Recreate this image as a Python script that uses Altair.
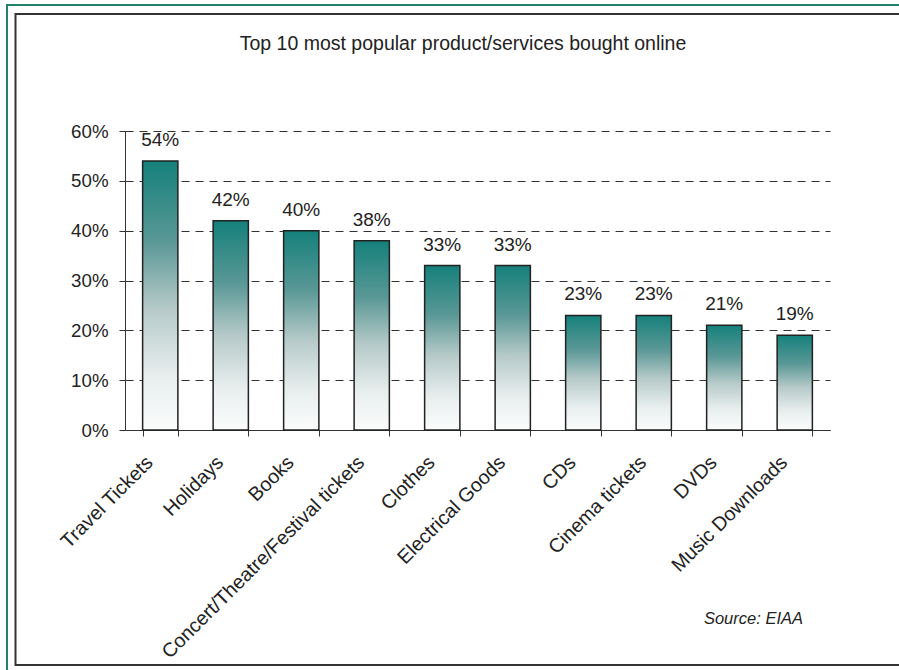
import altair as alt
import pandas as pd

categories = [
    "Travel Tickets", "Holidays", "Books", "Concert/Theatre/Festival tickets",
    "Clothes", "Electrical Goods", "CDs", "Cinema tickets", "DVDs", "Music Downloads",
]
shares = [0.54, 0.42, 0.40, 0.38, 0.33, 0.33, 0.23, 0.23, 0.21, 0.19]
y_ticks = [0, 0.1, 0.2, 0.3, 0.4, 0.5, 0.6]
title_text = "Top 10 most popular product/services bought online"
source_text = "Source: EIAA"

df = pd.DataFrame({"category": categories, "share": shares})
one = pd.DataFrame({"t": [title_text], "s": [source_text]})

FONT = "Liberation Sans, Arial, sans-serif"
W, H = 705, 299
PAD_L, PAD_T = 125, 131
TXT = "#222222"
AX = "#333333"

gradient = alt.Gradient(
    gradient="linear",
    stops=[
        alt.GradientStop(color="#15807b", offset=0),
        alt.GradientStop(color="#5a9896", offset=0.3),
        alt.GradientStop(color="#b6cac9", offset=0.55),
        alt.GradientStop(color="#e8eeee", offset=0.8),
        alt.GradientStop(color="#fbfcfc", offset=1),
    ],
    x1=0, x2=0, y1=0, y2=1,
)

x_enc = alt.X(
    "category:N", sort=categories,
    scale=alt.Scale(paddingInner=0.5, paddingOuter=0.25),
    axis=alt.Axis(
        title=None, labelAngle=-45, labelAlign="right", labelBaseline="top",
        labelFontSize=19.7, labelFont=FONT, labelColor=TXT, labelLimit=500,
        tickBand="extent", tickSize=6, tickColor=AX, domainColor=AX,
        labelPadding=16, labelOffset=-18, grid=False,
    ),
)
y_enc = alt.Y(
    "share:Q",
    scale=alt.Scale(domain=[0, 0.6], nice=False),
    axis=alt.Axis(
        title=None, format=".0%", values=y_ticks, tickSize=6, tickColor=AX,
        domainColor=AX, labelPadding=11, labelFontSize=18.7, labelFont=FONT,
        labelColor=TXT, grid=True, gridDash=[8, 6], gridColor=AX, gridWidth=1,
    ),
)

base = alt.Chart(df)
bars = base.mark_bar(fill=gradient, stroke="#222222", strokeWidth=1.5).encode(x=x_enc, y=y_enc)
labels = base.mark_text(
    dy=-15, baseline="alphabetic", fontSize=19, font=FONT, color=TXT
).encode(x=x_enc, y=y_enc, text=alt.Text("share:Q", format=".0%"))

outer = alt.Chart(one).mark_rect(fillOpacity=0, stroke="#23806a", strokeWidth=2).encode(
    x=alt.value(7 - PAD_L), x2=alt.value(W + 200),
    y=alt.value(5 - PAD_T), y2=alt.value(H + 400),
)
inner = alt.Chart(one).mark_rect(fillOpacity=0, stroke="#333333", strokeWidth=2).encode(
    x=alt.value(15.5 - PAD_L), x2=alt.value(W + 200),
    y=alt.value(14 - PAD_T), y2=alt.value(665 - PAD_T),
)
title = alt.Chart(one).mark_text(
    fontSize=19.5, font=FONT, color=TXT, align="center", baseline="alphabetic"
).encode(x=alt.value(463 - PAD_L), y=alt.value(50 - PAD_T), text="t:N")
source = alt.Chart(one).mark_text(
    fontSize=16.5, font=FONT, fontStyle="italic", color=TXT, align="right", baseline="alphabetic"
).encode(x=alt.value(803 - PAD_L), y=alt.value(624 - PAD_T), text="s:N")

chart = alt.layer(outer, inner, bars, labels, title, source).properties(
    width=W, height=H,
    padding={"left": PAD_L, "top": PAD_T, "right": 899 - PAD_L - W, "bottom": 670 - PAD_T - H},
    autosize=alt.AutoSizeParams(type="none"),
    background="white",
).configure_view(stroke=None)

chart.save("out.html", embed_options={"renderer": "svg", "actions": False})
